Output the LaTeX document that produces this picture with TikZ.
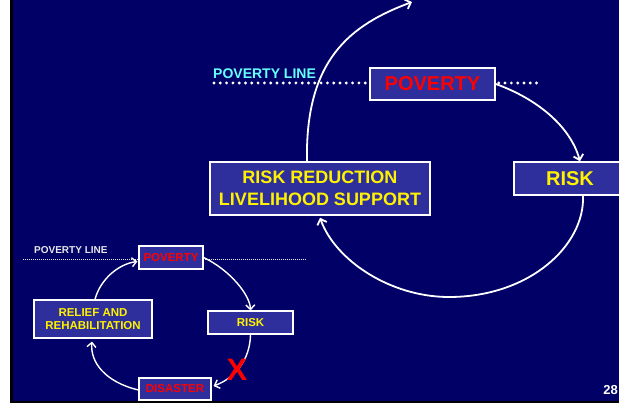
\documentclass[tikz,border=0pt]{standalone}
\usepackage{fontspec}
\setmainfont{Liberation Sans}
\usetikzlibrary{arrows.meta,calc}
\definecolor{navy}{HTML}{000066}
\definecolor{boxfill}{HTML}{2E2E9C}
\definecolor{cyanlbl}{HTML}{66FFFF}
\definecolor{lightgray}{HTML}{E8E8E8}
\begin{document}
\begin{tikzpicture}[x=1pt,y=-1pt,
  bigbox/.style={draw=white, line width=1.5pt, fill=boxfill, inner sep=0pt, align=center,
    font=\bfseries\fontsize{18}{21.7}\selectfont},
  smallbox/.style={draw=white, line width=1.2pt, fill=boxfill, inner sep=0pt, align=center,
    font=\bfseries\fontsize{11.5}{13.5}\selectfont},
  bigarrow/.style={white, line width=1.8pt, -{Straight Barb[length=5pt,width=10pt]}},
  bigline/.style={white, line width=1.8pt},
  smallarrow/.style={white, line width=1.4pt, -{Straight Barb[length=4.5pt,width=9pt]}},
  bigdots/.style={white, line width=3.2pt, line cap=round, dash pattern=on 0pt off 6.3pt},
  smalldots/.style={lightgray, line width=0.9pt, dash pattern=on 1pt off 1pt}]
\useasboundingbox (0,0) rectangle (619,403);
\fill[white] (0,0) rectangle (10,403);
\fill[black] (10,0) rectangle (619,403);
\fill[navy] (13,0) rectangle (619,401.5);

% ---------- large cycle ----------
\coordinate (bigL) at (214,83);
\coordinate (bigR) at (537,83);
\coordinate (topEnd) at (412,2);
\node[bigbox, minimum width=125pt, minimum height=32pt, text=red,
  font=\bfseries\fontsize{20}{24}\selectfont] (povB) at (432.5,84) {POVERTY};
\draw[bigdots] (bigL) -- ($(povB.west)+(-3,-1)$);
\draw[bigdots] ($(povB.east)+(3,-1)$) -- (bigR);
\node[anchor=west, text=cyanlbl, inner sep=0pt, font=\bfseries\fontsize{14}{16}\selectfont]
  (plB) at (213,73.5) {POVERTY LINE};
\node[bigbox, minimum width=112pt, minimum height=33pt, text=yellow,
  font=\bfseries\fontsize{20}{24}\selectfont] (riskB) at (570,178.5) {RISK};
\node[bigbox, minimum width=220pt, minimum height=53pt, text=yellow] (rrB) at (320,188.5)
  {RISK REDUCTION\\LIVELIHOOD SUPPORT};
\coordinate (riskBin) at ($(riskB.north)+(10,0)$);
\coordinate (riskBout) at ($(riskB.south)+(13,0)$);
\coordinate (rrBin) at ($(rrB.south)+(0,2)$);
\coordinate (rrBout) at ($(rrB.north)+(-13,0)$);
\coordinate (bottomB) at (449,297);

\draw[bigarrow] (povB.east) .. controls (535,98) and (570,125) .. (riskBin);
\draw[bigline] (riskBout) .. controls (585,245) and (530,297) .. (bottomB);
\draw[bigarrow] (bottomB) .. controls (390,297) and (335,260) .. (rrBin);
\draw[bigarrow] (rrBout) .. controls (305,60) and (350,25) .. (topEnd);

% ---------- small cycle ----------
\coordinate (smL) at (23,259);
\coordinate (smR) at (305,259);
\node[smallbox, minimum width=64pt, minimum height=23pt, text=red] (povS) at (171,257.5) {POVERTY};
\draw[smalldots] (smL) -- ($(povS.west)+(-1,1.5)$);
\draw[smalldots] ($(povS.east)+(1,1.5)$) -- (smR);
\node[anchor=west, text=lightgray, inner sep=0pt, font=\bfseries\fontsize{10}{12}\selectfont]
  (plS) at (34,250.5) {POVERTY LINE};
\node[smallbox, minimum width=85pt, minimum height=23pt, text=yellow] (riskS) at (250.5,322.5) {RISK};
\node[smallbox, minimum width=118pt, minimum height=38pt, text=yellow] (relS) at (93,319)
  {RELIEF AND\\REHABILITATION};
\node[smallbox, minimum width=72pt, minimum height=22pt, text=red] (disS) at (175,389) {DISASTER};

\draw[smallarrow] (povS.east) .. controls (230,270) and (250,295) .. (riskS.north);
\draw[smallarrow] (riskS.south) .. controls (250,360) and (235,378) .. ($(disS.east)+(2,-3)$);
\draw[smallarrow] ($(disS.west)+(0,1)$) .. controls (105,382) and (90,362) .. ($(relS.south)+(-1,3)$);
\draw[smallarrow] ($(relS.north)+(2,0)$) .. controls (100,280) and (118,264) .. ($(povS.west)+(-1,4)$);

\node[text=red, inner sep=0pt, font=\bfseries\fontsize{31}{33}\selectfont] (xmark) at (237,370) {X};
\node[text=white, inner sep=0pt, font=\bfseries\fontsize{13}{15}\selectfont] (pageno) at (610.5,390) {28};
\end{tikzpicture}
\end{document}
